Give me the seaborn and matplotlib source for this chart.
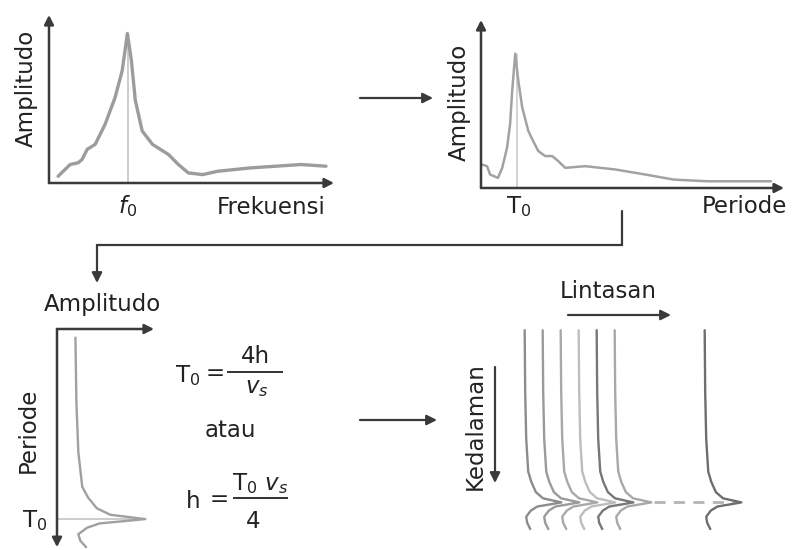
import numpy as np
import pandas as pd
import matplotlib
matplotlib.use("Agg")
import matplotlib.pyplot as plt
import seaborn as sns

# ---------------- data ----------------
# Panel 1: amplitude spectrum vs frequency (arbitrary units)
freq = [0.32, 0.74, 1.02, 1.16, 1.34, 1.62, 1.97, 2.32, 2.57, 2.75, 2.89, 3.03,
        3.27, 3.45, 3.63, 4.19, 4.54, 4.89, 5.39, 5.92, 7.08, 8.84, 9.72]
freq_amp = [0.04, 0.11, 0.12, 0.14, 0.20, 0.23, 0.35, 0.51, 0.67, 0.89, 0.73, 0.49,
            0.31, 0.27, 0.23, 0.17, 0.11, 0.06, 0.05, 0.07, 0.09, 0.11, 0.10]
f0 = 2.76

# Panel 2: amplitude spectrum vs period
period = [0.03, 0.20, 0.30, 0.56, 0.70, 0.86, 0.96, 1.03, 1.13, 1.23, 1.36, 1.56,
          1.72, 1.89, 2.12, 2.35, 2.55, 2.78, 3.44, 4.44, 5.43, 6.36, 7.48, 9.57]
period_amp = [0.14, 0.13, 0.08, 0.06, 0.12, 0.24, 0.38, 0.58, 0.80, 0.64, 0.48, 0.34,
              0.28, 0.22, 0.19, 0.19, 0.16, 0.12, 0.13, 0.11, 0.08, 0.05, 0.04, 0.04]
T0_period = 1.18

# Panel 3: rotated spectrum (amplitude vs position down the period axis)
profile_amp = [0.19, 0.20, 0.22, 0.26, 0.32, 0.41, 0.55, 0.91, 0.68, 0.44, 0.31, 0.22, 0.24, 0.30]
profile_pos = [0.04, 0.34, 0.57, 0.73, 0.78, 0.83, 0.86, 0.88, 0.89, 0.90, 0.92, 0.95, 0.98, 1.01]
T0_pos = 0.88

# Panel 4: stations along the line (lintasan)
stations = [0, 1, 2, 3, 4, 5, 10]
trace_grays = ["#8c8c8c", "#9a9a9a", "#a8a8a8", "#bdbdbd", "#777777", "#a8a8a8", "#6e6e6e"]
amp_to_station = 2.83

# ---------------- style ----------------
sns.set_style("white")
plt.rcParams["font.family"] = ["DejaVu Sans"]
plt.rcParams["mathtext.fontset"] = "dejavusans"
plt.rcParams["lines.solid_joinstyle"] = "round"
plt.rcParams["lines.solid_capstyle"] = "round"

W, H = 793, 550
fig = plt.figure(figsize=(W / 100, H / 100), dpi=100)
fig.patch.set_facecolor("white")

AX_COL = "#3a3a3a"
TXT_COL = "#222222"
FS = 16.5


def px_axes(x0, y0, x1, y1):
    ax = fig.add_axes([x0 / W, 1 - y1 / H, (x1 - x0) / W, (y1 - y0) / H])
    ax.set_axis_off()
    ax.patch.set_alpha(0)
    return ax


def axis_arrow(ax, start, end):
    ax.annotate("", xy=end, xytext=start, xycoords="axes fraction",
                textcoords="axes fraction",
                arrowprops=dict(arrowstyle="-|>,head_length=0.55,head_width=0.28",
                                color=AX_COL, lw=1.8, shrinkA=0, shrinkB=0,
                                mutation_scale=10),
                annotation_clip=False)


# ---- Panel 1 ----
ax1 = px_axes(49, 15, 334, 183)
ax1.set_xlim(0, 10)
ax1.set_ylim(0, 1)
df1 = pd.DataFrame({"freq": freq, "amp": freq_amp})
ax1.vlines(f0, 0, max(freq_amp), color="#cccccc", lw=1.4)
sns.lineplot(data=df1, x="freq", y="amp", sort=False, estimator=None, ax=ax1,
             color="#9c9c9c", lw=2.4, legend=False)
ax1.set_axis_off()
axis_arrow(ax1, (0, 0), (0, 1))
axis_arrow(ax1, (0, 0), (1.0, 0))

# ---- Panel 2 ----
ax2 = px_axes(481, 20, 784, 188)
ax2.set_xlim(0, 10)
ax2.set_ylim(0, 1)
df2 = pd.DataFrame({"period": period, "amp": period_amp})
ax2.vlines(T0_period, 0, max(period_amp), color="#cccccc", lw=1.2)
sns.lineplot(data=df2, x="period", y="amp", sort=False, estimator=None, ax=ax2,
             color="#a2a2a2", lw=1.8, legend=False)
ax2.set_axis_off()
axis_arrow(ax2, (0, 0), (0, 1))
axis_arrow(ax2, (0, 0), (1.0, 0))

# ---- Panel 3 ----
ax3 = px_axes(57, 329, 154, 545)
ax3.set_xlim(0, 1)
ax3.set_ylim(1, 0)
df3 = pd.DataFrame({"amp": profile_amp, "pos": profile_pos})
ax3.hlines(T0_pos, 0, max(profile_amp), color="#c8c8c8", lw=1.3)
sns.lineplot(data=df3, x="amp", y="pos", sort=False, estimator=None, ax=ax3,
             color="#a0a0a0", lw=1.7, legend=False)
for ln in ax3.get_lines():
    ln.set_clip_on(False)
ax3.set_axis_off()
axis_arrow(ax3, (0, 1), (1.0, 1))
axis_arrow(ax3, (0, 1), (0, -0.01))

# ---- Panel 4: traces ----
ax4 = px_axes(497, 322, 767, 527)
ax4.set_xlim(-1, 14)
ax4.set_ylim(1, 0)
peak_amp = max(profile_amp)
ax4.plot([stations[5] + peak_amp * amp_to_station + 0.15,
          stations[6] + peak_amp * amp_to_station - 0.4],
         [T0_pos, T0_pos], color="#b4b4b4", lw=2.0, dashes=(4, 3),
         dash_capstyle="butt")
for st, col in zip(stations, trace_grays):
    dft = pd.DataFrame({"x": [st + a * amp_to_station for a in profile_amp],
                        "pos": profile_pos})
    sns.lineplot(data=dft, x="x", y="pos", sort=False, estimator=None, ax=ax4,
                 color=col, lw=1.7, legend=False)
for ln in ax4.get_lines():
    ln.set_clip_on(False)
ax4.set_axis_off()

# ---- overlay (arrows, labels, formulas) ----
ov = px_axes(0, 0, W, H)
ov.set_xlim(0, W)
ov.set_ylim(H, 0)


def arrow(p0, p1, lw=1.6, col=AX_COL):
    ov.annotate("", xy=p1, xytext=p0,
                arrowprops=dict(arrowstyle="-|>,head_length=0.6,head_width=0.3",
                                color=col, lw=lw, shrinkA=0, shrinkB=0,
                                mutation_scale=10))


arrow((360, 98), (433, 98))
arrow((360, 420), (437, 420))
ov.plot([622, 622, 97], [211, 245, 245], color=AX_COL, lw=1.6, solid_joinstyle="miter")
arrow((97, 245), (97, 283))
arrow((568, 315), (671, 315))
arrow((495, 367), (495, 483))

kw = dict(color=TXT_COL, fontsize=FS)
ov.text(26, 88, "Amplitudo", rotation=90, ha="center", va="center", **kw)
ov.text(128, 213, r"$f_{\mathit{0}}$", ha="center", va="baseline", **kw)
ov.text(271, 214, "Frekuensi", ha="center", va="baseline", **kw)

ov.text(459, 102, "Amplitudo", rotation=90, ha="center", va="center", **kw)
ov.text(519, 213, r"$\mathrm{T}_0$", ha="center", va="baseline", **kw)
ov.text(744, 213, "Periode", ha="center", va="baseline", **kw)

ov.text(102, 311, "Amplitudo", ha="center", va="baseline", **kw)
ov.text(28, 430, "Periode", rotation=90, ha="center", va="center", **kw)
ov.text(35, 527, r"$\mathrm{T}_0$", ha="center", va="baseline", **kw)

ov.text(608, 298, "Lintasan", ha="center", va="baseline", **kw)
ov.text(475, 426, "Kedalaman", rotation=90, ha="center", va="center", **kw)

# formulas
ov.text(188, 382, r"$\mathrm{T}_0$", ha="center", va="baseline", **kw)
ov.text(215, 380, "=", ha="center", va="baseline", **kw)
ov.plot([227, 283], [372, 372], color=TXT_COL, lw=1.3, solid_capstyle="butt")
ov.text(255, 363, "4h", ha="center", va="baseline", **kw)
ov.text(257, 393, r"$v_s$", ha="center", va="baseline", **kw)
ov.text(230, 437, "atau", ha="center", va="baseline", **kw)
ov.text(193, 508, "h", ha="center", va="baseline", **kw)
ov.text(219, 506, "=", ha="center", va="baseline", **kw)
ov.plot([233, 288], [498, 498], color=TXT_COL, lw=1.3, solid_capstyle="butt")
ov.text(260, 490, r"$\mathrm{T}_0\ v_s$", ha="center", va="baseline", **kw)
ov.text(253, 528, "4", ha="center", va="baseline", **kw)

fig.savefig("out.png", dpi=100, facecolor="white")
